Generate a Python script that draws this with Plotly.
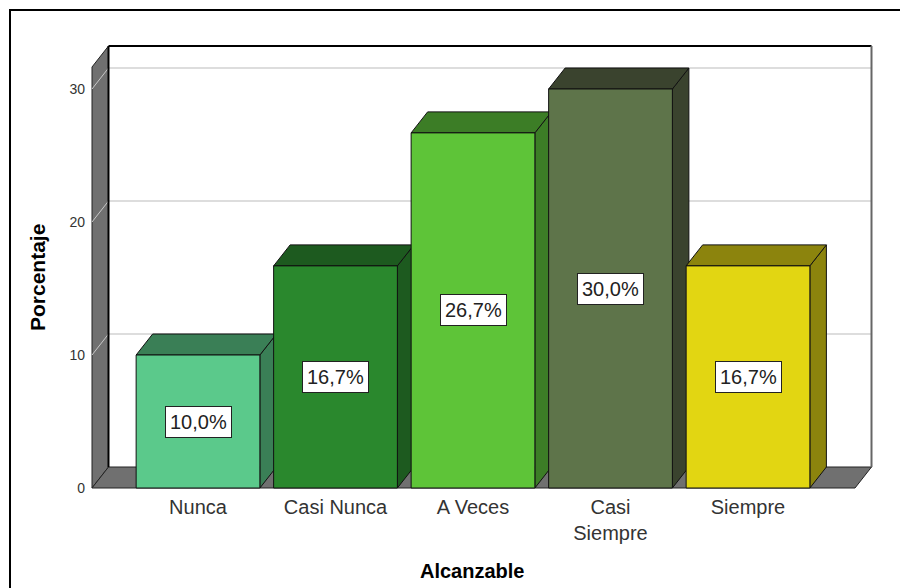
import plotly.graph_objects as go

categories = ["Nunca", "Casi Nunca", "A Veces", "Casi Siempre", "Siempre"]
tick_labels = ["Nunca", "Casi Nunca", "A Veces", "Casi<br>Siempre", "Siempre"]
percent = [10.0, 16.7, 26.7, 30.0, 16.7]
bar_labels = ["10,0%", "16,7%", "26,7%", "30,0%", "16,7%"]
front_colors = ["#5BC98B", "#2A882D", "#5EC438", "#5E744A", "#E2D612"]
dark_colors = ["#3A7F56", "#1D5A1F", "#3C7D26", "#3A432E", "#8C840D"]
y_ticks = [0, 10, 20, 30]

W, H = 900, 588
# pixel geometry of the 3D box
PX_L, PX_R, PX_T, PX_B = 90, 874, 45, 490
X0_PX, X_STEP = 198.0, 137.5     # category 0 centre, px per category
Y0_PX, Y_STEP = 488.0, 13.3      # value 0, px per unit
DX_PX, DY_PX = 16.5, 21.0        # depth offset

x_range = [(PX_L - X0_PX) / X_STEP, (PX_R - X0_PX) / X_STEP]
y_range = [(Y0_PX - PX_B) / Y_STEP, (Y0_PX - PX_T) / Y_STEP]
dx = DX_PX / X_STEP
dy = DY_PX / Y_STEP

fx_left = (92 - X0_PX) / X_STEP
fx_right = (855 - X0_PX) / X_STEP
f_top = (Y0_PX - 67) / Y_STEP
bw = 0.9


def px2paper_x(px):
    return (px - PX_L) / (PX_R - PX_L)


def px2paper_y(py):
    return (PX_B - py) / (PX_B - PX_T)


def path(pts):
    return "M " + " L ".join(f"{x},{y}" for x, y in pts) + " Z"


shapes = []
wall = "#707070"
# back wall
shapes.append(dict(type="path", xref="x", yref="y", layer="below",
                   path=path([(fx_left + dx, dy), (fx_right + dx, dy), (fx_right + dx, f_top + dy), (fx_left + dx, f_top + dy)]),
                   fillcolor="white", line=dict(width=0)))
# gridlines on back wall
for v in y_ticks[1:]:
    shapes.append(dict(type="line", xref="x", yref="y", layer="below",
                       x0=fx_left + dx, x1=fx_right + dx, y0=v + dy, y1=v + dy,
                       line=dict(color="#D2D2D2", width=1.5)))
# left wall
shapes.append(dict(type="path", xref="x", yref="y", layer="below",
                   path=path([(fx_left, 0), (fx_left + dx, dy), (fx_left + dx, f_top + dy), (fx_left, f_top)]),
                   fillcolor=wall, line=dict(color="#222222", width=1)))
# floor
shapes.append(dict(type="path", xref="x", yref="y", layer="below",
                   path=path([(fx_left, 0), (fx_right, 0), (fx_right + dx, dy), (fx_left + dx, dy)]),
                   fillcolor=wall, line=dict(color="#222222", width=1)))
# gridlines on left wall
for v in y_ticks[1:]:
    shapes.append(dict(type="line", xref="x", yref="y", layer="below",
                       x0=fx_left, x1=fx_left + dx, y0=v, y1=v + dy,
                       line=dict(color="#C8C8C8", width=1)))
# back wall borders
shapes.append(dict(type="line", xref="x", yref="y", layer="below",
                   x0=fx_left + dx, x1=fx_right + dx, y0=f_top + dy, y1=f_top + dy,
                   line=dict(color="black", width=2)))
shapes.append(dict(type="line", xref="x", yref="y", layer="below",
                   x0=fx_left + dx, x1=fx_left + dx, y0=dy, y1=f_top + dy,
                   line=dict(color="black", width=2)))
shapes.append(dict(type="line", xref="x", yref="y", layer="below",
                   x0=fx_right + dx, x1=fx_right + dx, y0=dy, y1=f_top + dy,
                   line=dict(color="#666666", width=2)))

# bar top and side faces
for i, v in enumerate(percent):
    l, r = i - bw / 2, i + bw / 2
    shapes.append(dict(type="path", xref="x", yref="y", layer="below",
                       path=path([(r, 0), (r + dx, dy), (r + dx, v + dy), (r, v)]),
                       fillcolor=dark_colors[i], line=dict(color="#111111", width=1)))
    shapes.append(dict(type="path", xref="x", yref="y", layer="below",
                       path=path([(l, v), (l + dx, v + dy), (r + dx, v + dy), (r, v)]),
                       fillcolor=dark_colors[i], line=dict(color="#111111", width=1)))

# outer frame
shapes.append(dict(type="rect", xref="paper", yref="paper",
                   x0=px2paper_x(10), x1=px2paper_x(960), y0=px2paper_y(10), y1=px2paper_y(640),
                   line=dict(color="black", width=2), fillcolor="rgba(0,0,0,0)"))

fig = go.Figure()
fig.add_trace(go.Bar(
    x=list(range(len(categories))), y=percent, width=bw,
    marker=dict(color=front_colors, line=dict(color="#111111", width=1)),
    hovertext=categories, showlegend=False,
))

annotations = []
for i, v in enumerate(percent):
    annotations.append(dict(x=i, y=v / 2, xref="x", yref="y", text=bar_labels[i],
                            showarrow=False, bgcolor="white", bordercolor="#222222",
                            borderwidth=1, borderpad=4,
                            font=dict(family="Arial, Liberation Sans", size=20, color="#222222")))
annotations.append(dict(x=px2paper_x(37), y=px2paper_y(277), xref="paper", yref="paper",
                        xanchor="center", yanchor="middle",
                        text="<b>Porcentaje</b>", textangle=-90, showarrow=False,
                        font=dict(family="Arial, Liberation Sans", size=21, color="black")))
annotations.append(dict(x=px2paper_x(472), y=px2paper_y(571), xref="paper", yref="paper",
                        xanchor="center", yanchor="middle",
                        text="<b>Alcanzable</b>", showarrow=False,
                        font=dict(family="Arial, Liberation Sans", size=20, color="black")))

fig.update_layout(
    width=W, height=H,
    margin=dict(l=PX_L, r=W - PX_R, t=PX_T, b=H - PX_B),
    paper_bgcolor="white", plot_bgcolor="white",
    shapes=shapes, annotations=annotations,
    xaxis=dict(range=x_range, tickvals=list(range(len(categories))), ticktext=tick_labels,
               showgrid=False, zeroline=False, showline=False, ticks="", ticklabelstandoff=3,
               tickfont=dict(family="Arial, Liberation Sans", size=20, color="#333333")),
    yaxis=dict(range=y_range, tickvals=y_ticks, showgrid=False, zeroline=False, showline=False,
               ticks="", ticklabelstandoff=4,
               tickfont=dict(family="Arial, Liberation Sans", size=14, color="#333333")),
    font=dict(family="Arial, Liberation Sans"),
)

fig.write_html("out.html")
